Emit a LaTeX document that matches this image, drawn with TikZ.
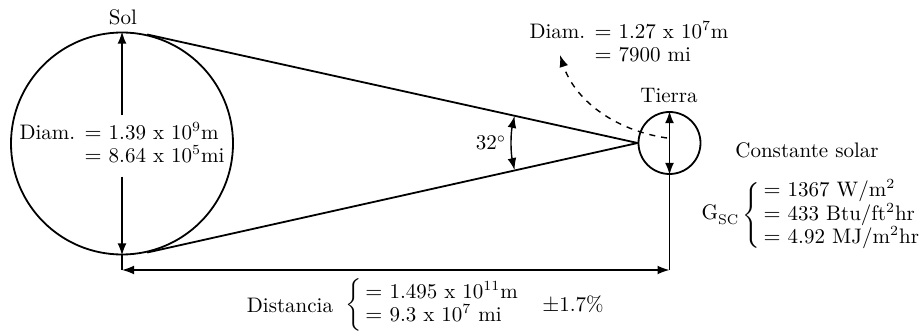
\documentclass[tikz,border=0pt]{standalone}
\usepackage{amsmath}
\usetikzlibrary{calc,arrows.meta}
\tikzset{
  body/.style={circle, draw, line width=0.9pt, inner sep=0pt},
  dimline/.style={line width=0.7pt, {Latex[length=6pt,width=4.4pt]}-{Latex[length=6pt,width=4.4pt]}},
  ray/.style={line width=0.9pt},
  lbl/.style={inner sep=1pt, font=\fontsize{10.5}{12.6}\selectfont}
}

\begin{document}
\begin{tikzpicture}[x=0.5pt, y=-0.5pt]
  \useasboundingbox (0,0) rectangle (921,336);

  % Sun and Earth
  \node[body, minimum size=111pt] (sol) at (122,143.5) {};
  \node[body, minimum size=31pt] (ea) at (669.5,143) {};
  \node[lbl] (sollbl) at (123,17) {Sol};
  \node[lbl] (ealbl) at (669,96) {Tierra};

  % tangent rays meeting at the Earth
  \draw[ray] (sol.77.6) -- (ea.west);
  \draw[ray] (sol.-77.6) -- (ea.west);

  % sun diameter
  \node[lbl, inner sep=3pt] (soldiam) at (122,146) {%
    \begin{tabular}{@{}r@{ }l@{}}
      Diam. & $=$ 1.39 x 10$^9$m\\[-1pt]
            & $=$ 8.64 x 10$^5$mi
    \end{tabular}};
  \draw[line width=0.7pt, -{Latex[length=6pt,width=4.4pt]}] (soldiam.north) -- (sol.north);
  \draw[line width=0.7pt, -{Latex[length=6pt,width=4.4pt]}] (soldiam.south) -- (sol.south);

  % earth diameter
  \draw[dimline] (ea.south) -- (ea.north);
  \node[lbl] (eadiam) at (629,45) {%
    \begin{tabular}{@{}r@{ }l@{}}
      Diam. & $=$ 1.27 x 10$^7$m\\[-1pt]
            & $=$ 7900 mi
    \end{tabular}};
  \coordinate (dstart) at (667,138);
  \coordinate (dend) at (560,55);
  \draw[line width=0.7pt, dashed, -{Latex[length=6pt,width=4.4pt]}]
    (dstart) .. controls (612,130) and (574,98) .. (dend);

  % angle
  \coordinate (apex) at (ea.west);
  \draw[dimline] ($(apex)+(167.6:126)$) arc[start angle=167.6, end angle=192.4, radius=126];
  \node[lbl] (ang) at (491,143) {32$^\circ$};

  % distance
  \coordinate (d1) at (122,270);
  \coordinate (d2) at (669.5,270);
  \draw[line width=0.7pt] (sol.south) -- (d1);
  \draw[line width=0.7pt] (ea.south) -- (d2);
  \draw[dimline] (d1) -- (d2);
  \node[lbl] (distlbl) at (290,305) {Distancia};
  \node[lbl, anchor=west] (distval) at (343,305) {%
    $\left\{\,\begin{tabular}{@{}l@{}}
      $=$ 1.495 x 10$^{11}$m\\[-1pt]
      $=$ 9.3 x 10$^7$ mi
    \end{tabular}\right.$};
  \node[lbl] (pm) at (573,305) {$\pm$1.7\%};

  % solar constant
  \node[lbl] (gsclbl) at (807,150) {Constante solar};
  \node[lbl] (gsc) at (720,215) {G\raisebox{-0.6ex}{\scriptsize SC}};
  \node[lbl, anchor=west] (gscval) at (740,215) {%
    $\left\{\,\begin{tabular}{@{}l@{}}
      $=$ 1367 W/m$^2$\\[-1pt]
      $=$ 433 Btu/ft$^2$hr\\[-1pt]
      $=$ 4.92 MJ/m$^2$hr
    \end{tabular}\right.$};
\end{tikzpicture}
\end{document}
